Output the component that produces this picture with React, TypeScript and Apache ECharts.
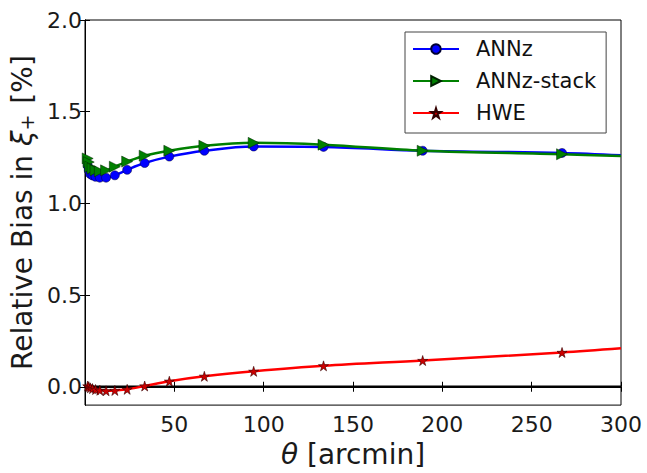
import React, { useEffect, useRef } from "react";
import * as echarts from "echarts";

const theta = [1.5, 2.1, 2.95, 4.2, 5.9, 8.3, 11.8, 16.7, 23.6, 33.4, 47.2, 66.8, 94.4, 133.5, 189, 267, 300];
const annz = [1.205, 1.18, 1.16, 1.152, 1.145, 1.14, 1.14, 1.153, 1.183, 1.22, 1.255, 1.287, 1.31, 1.308, 1.287, 1.275, 1.262];
const annzStack = [1.245, 1.225, 1.2, 1.19, 1.18, 1.175, 1.18, 1.2, 1.228, 1.26, 1.287, 1.314, 1.33, 1.32, 1.287, 1.268, 1.258];
const hwe = [0.004, 0.0, -0.006, -0.01, -0.015, -0.019, -0.022, -0.02, -0.014, 0.004, 0.03, 0.057, 0.084, 0.114, 0.143, 0.187, 0.21];
// the last theta (300) is only where the curve leaves the frame; it has no marker
const xTicks = [50, 100, 150, 200, 250, 300];
const yTicks = [0, 0.5, 1.0, 1.5, 2.0];
const zeroLine = [[0, 0], [300, 0]];

const STAR = "path://M50,0 L61,35 L98,35 L68,57 L79,91 L50,70 L21,91 L32,57 L2,35 L39,35 Z";
const FONT = "DejaVu Sans";

function build(vals: number[]) {
  return theta.map((t, i) =>
    i === theta.length - 1 ? { value: [t, vals[i]], symbol: "none" } : { value: [t, vals[i]] }
  );
}

export default function App() {
  const ref = useRef<HTMLDivElement>(null);
  useEffect(() => {
    if (!ref.current) return;
    const chart = echarts.init(ref.current, undefined, { renderer: "svg" });
    const axisCommon = {
      type: "value" as const,
      splitLine: { show: false },
      axisLine: { show: true, lineStyle: { color: "#000", width: 1 } },
    };
    chart.setOption({
      animation: false,
      backgroundColor: "#fff",
      textStyle: { fontFamily: FONT },
      grid: { left: 85, right: 26, top: 20, bottom: 61, show: true, borderColor: "#000", borderWidth: 1 },
      legend: {
        data: ["ANNz", "ANNz-stack", "HWE"],
        orient: "vertical",
        left: 405,
        top: 32,
        padding: [5, 10, 8, 7],
        itemWidth: 46,
        itemHeight: 12,
        itemGap: 8,
        borderColor: "#444",
        borderWidth: 1,
        backgroundColor: "#fff",
        textStyle: { fontFamily: FONT, fontSize: 21, color: "#111", lineHeight: 24, padding: [0, 0, 0, 12] },
      },
      xAxis: [
        {
          ...axisCommon,
          min: 0,
          max: 300,
          position: "bottom",
          axisTick: { show: true, inside: true, length: 5, customValues: xTicks, lineStyle: { color: "#000" } },
          axisLabel: { customValues: xTicks, fontFamily: FONT, fontSize: 22, color: "#1a1a1a", margin: 8 },
          name: "{i|θ} [arcmin]",
          nameLocation: "middle",
          nameGap: 27,
          nameTextStyle: {
            fontFamily: FONT,
            fontSize: 28,
            color: "#1a1a1a",
            rich: { i: { fontFamily: FONT, fontSize: 28, fontStyle: "italic", color: "#1a1a1a" } },
          },
        },
        {
          ...axisCommon,
          min: 0,
          max: 300,
          position: "top",
          axisTick: { show: true, inside: true, length: 5, customValues: xTicks, lineStyle: { color: "#000" } },
          axisLabel: { show: false },
        },
      ],
      yAxis: [
        {
          ...axisCommon,
          min: -0.1,
          max: 2.0,
          position: "left",
          axisTick: { show: true, inside: true, length: 5, customValues: yTicks, lineStyle: { color: "#000" } },
          axisLabel: {
            customValues: yTicks,
            formatter: (v: number) => v.toFixed(1),
            fontFamily: FONT,
            fontSize: 22,
            color: "#1a1a1a",
            margin: 3,
          },
          name: "{a|Relative Bias in }{b|ξ}{c|+}{a| [%]}",
          nameLocation: "middle",
          nameGap: 42,
          nameTextStyle: {
            fontFamily: FONT,
            fontSize: 28,
            color: "#1a1a1a",
            rich: {
              a: { fontFamily: FONT, fontSize: 28, color: "#1a1a1a" },
              b: { fontFamily: FONT, fontSize: 28, fontStyle: "italic", color: "#1a1a1a" },
              c: { fontFamily: FONT, fontSize: 19, color: "#1a1a1a", verticalAlign: "bottom", padding: [0, 2, 0, 0] },
            },
          },
        },
        {
          ...axisCommon,
          min: -0.1,
          max: 2.0,
          position: "right",
          axisTick: { show: true, inside: true, length: 5, customValues: yTicks, lineStyle: { color: "#000" } },
          axisLabel: { show: false },
        },
      ],
      series: [
        {
          name: "zero",
          type: "line",
          data: zeroLine,
          symbol: "none",
          silent: true,
          lineStyle: { color: "#000", width: 2.5 },
          z: 1,
        },
        {
          name: "ANNz",
          type: "line",
          data: build(annz),
          smooth: 0.35,
          symbol: "circle",
          symbolSize: 9,
          color: "#0000ff",
          lineStyle: { color: "#0000ff", width: 2.5 },
          itemStyle: { color: "#0000ff", borderColor: "#000033", borderWidth: 0.5 },
          z: 2,
        },
        {
          name: "ANNz-stack",
          type: "line",
          data: build(annzStack),
          smooth: 0.35,
          symbol: "triangle",
          symbolRotate: -90,
          symbolSize: 11,
          color: "#008000",
          lineStyle: { color: "#008000", width: 2.5 },
          itemStyle: { color: "#008000", borderColor: "#002200", borderWidth: 0.5 },
          z: 3,
        },
        {
          name: "HWE",
          type: "line",
          data: build(hwe),
          smooth: 0.35,
          symbol: STAR,
          symbolSize: 10,
          color: "#ff0000",
          lineStyle: { color: "#ff0000", width: 2.5 },
          itemStyle: { color: "#cc0000", borderColor: "#330000", borderWidth: 0.6 },
          z: 4,
        },
      ],
    });
    return () => chart.dispose();
  }, []);
  return (
    <div
      ref={ref}
      style={{ position: "fixed", left: 0, top: 0, width: 647, height: 473, background: "#fff" }}
    />
  );
}
